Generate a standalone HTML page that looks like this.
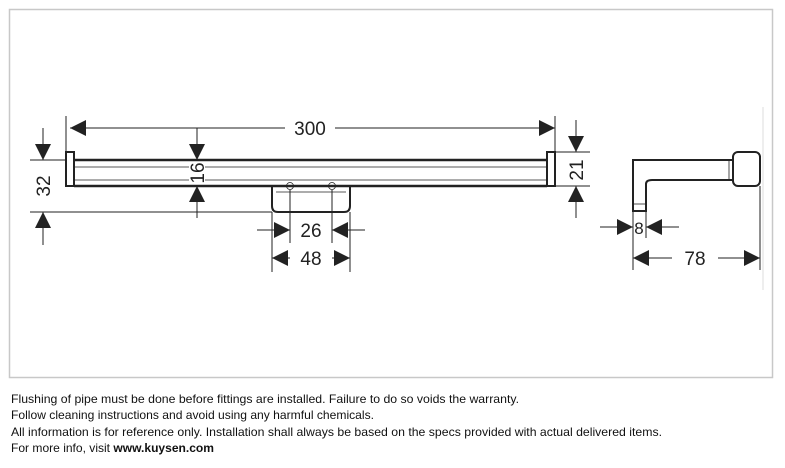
<!DOCTYPE html>
<html><head><style>body{margin:0;background:#fff}svg{display:block}</style></head>
<body>
<svg width="785" height="468" viewBox="0 0 785 468" xmlns="http://www.w3.org/2000/svg" font-family="Liberation Sans, sans-serif">
<rect x="9.5" y="9.5" width="763" height="368" fill="none" stroke="#c8c8c8" stroke-width="1.5"/>
<line x1="763" y1="107" x2="763" y2="290" stroke="#ddd" stroke-width="1"/>
<defs>
<marker id="a" viewBox="0 0 10 10" refX="10" refY="5" markerWidth="16" markerHeight="16" markerUnits="userSpaceOnUse" orient="auto"><path d="M0,0 L10,5 L0,10z" fill="#222"/></marker>
</defs>
<g stroke="#222" fill="none">
<!-- bar -->
<rect x="66" y="152" width="8" height="34" stroke-width="2"/>
<rect x="547" y="152" width="8" height="34" stroke-width="2"/>
<line x1="74" y1="160" x2="547" y2="160" stroke-width="2.5"/>
<line x1="74" y1="186" x2="547" y2="186" stroke-width="2.5"/>
<line x1="74" y1="167" x2="547" y2="167" stroke-width="0.8"/>
<line x1="74" y1="180" x2="547" y2="180" stroke-width="0.8"/>
<path d="M272,186 V206 Q272,212 278,212 H344 Q350,212 350,206 V186" stroke-width="2"/>
<line x1="276" y1="192" x2="346" y2="192" stroke-width="0.8"/>
<circle cx="290" cy="186" r="3.5" stroke-width="0.8"/>
<circle cx="332" cy="186" r="3.5" stroke-width="0.8"/>
<!-- side -->
<path d="M733,160 H633 V211 H646 V184 Q646,180 652,180 H733" stroke-width="2"/>
<line x1="633" y1="204" x2="646" y2="204" stroke-width="0.8"/>
<line x1="729" y1="160" x2="729" y2="180" stroke-width="0.8"/>
<rect x="733" y="152" width="27" height="34" rx="5" stroke-width="2"/>
<!-- dimension lines -->
<g stroke-width="1">
<line x1="66" y1="116" x2="66" y2="152"/><line x1="555" y1="116" x2="555" y2="152"/>
<line x1="285" y1="128" x2="70" y2="128" marker-end="url(#a)"/>
<line x1="335" y1="128" x2="555" y2="128" marker-end="url(#a)"/>
<line x1="30" y1="160" x2="66" y2="160"/><line x1="30" y1="212" x2="272" y2="212"/>
<line x1="43" y1="128" x2="43" y2="160" marker-end="url(#a)"/>
<line x1="43" y1="245" x2="43" y2="212" marker-end="url(#a)"/>
<line x1="197" y1="128" x2="197" y2="160" marker-end="url(#a)"/>
<line x1="197" y1="218" x2="197" y2="186" marker-end="url(#a)"/>
<line x1="555" y1="152" x2="590" y2="152"/><line x1="555" y1="186" x2="590" y2="186"/>
<line x1="576" y1="120" x2="576" y2="152" marker-end="url(#a)"/>
<line x1="576" y1="218" x2="576" y2="186" marker-end="url(#a)"/>
<line x1="290" y1="190" x2="290" y2="243"/><line x1="332" y1="190" x2="332" y2="243"/>
<line x1="257" y1="230" x2="290" y2="230" marker-end="url(#a)"/>
<line x1="365" y1="230" x2="332" y2="230" marker-end="url(#a)"/>
<line x1="272" y1="212" x2="272" y2="272"/><line x1="350" y1="212" x2="350" y2="272"/>
<line x1="290" y1="258" x2="272" y2="258" marker-end="url(#a)"/>
<line x1="332" y1="258" x2="350" y2="258" marker-end="url(#a)"/>
<line x1="633" y1="211" x2="633" y2="270"/><line x1="646" y1="211" x2="646" y2="238"/><line x1="760" y1="186" x2="760" y2="270"/>
<line x1="600" y1="227" x2="633" y2="227" marker-end="url(#a)"/>
<line x1="679" y1="227" x2="646" y2="227" marker-end="url(#a)"/>
<line x1="672" y1="258" x2="633" y2="258" marker-end="url(#a)"/>
<line x1="718" y1="258" x2="760" y2="258" marker-end="url(#a)"/>
</g>
</g>
<g fill="#222" font-size="19" text-anchor="middle">
<rect x="287" y="118" width="46" height="20" fill="#fff"/>
<text x="310" y="135">300</text>
<text x="311" y="237">26</text>
<text x="311" y="265">48</text>
<text x="639" y="234" font-size="17">8</text>
<text x="695" y="265">78</text>
<text transform="translate(50,186) rotate(-90)">32</text>
<rect x="189" y="162" width="16" height="22" fill="#fff"/>
<text transform="translate(204,173) rotate(-90)">16</text>
<text transform="translate(583,170) rotate(-90)">21</text>
</g>
<g font-size="12" fill="#111">
<text x="11" y="403" textLength="508" lengthAdjust="spacingAndGlyphs">Flushing of pipe must be done before fittings are installed. Failure to do so voids the warranty.</text>
<text x="11" y="419" textLength="363" lengthAdjust="spacingAndGlyphs">Follow cleaning instructions and avoid using any harmful chemicals.</text>
<text x="11" y="436" textLength="651" lengthAdjust="spacingAndGlyphs">All information is for reference only. Installation shall always be based on the specs provided with actual delivered items.</text>
<text x="11" y="452" textLength="203" lengthAdjust="spacingAndGlyphs">For more info, visit <tspan font-weight="bold">www.kuysen.com</tspan></text>
</g>
</svg>
</body></html>
